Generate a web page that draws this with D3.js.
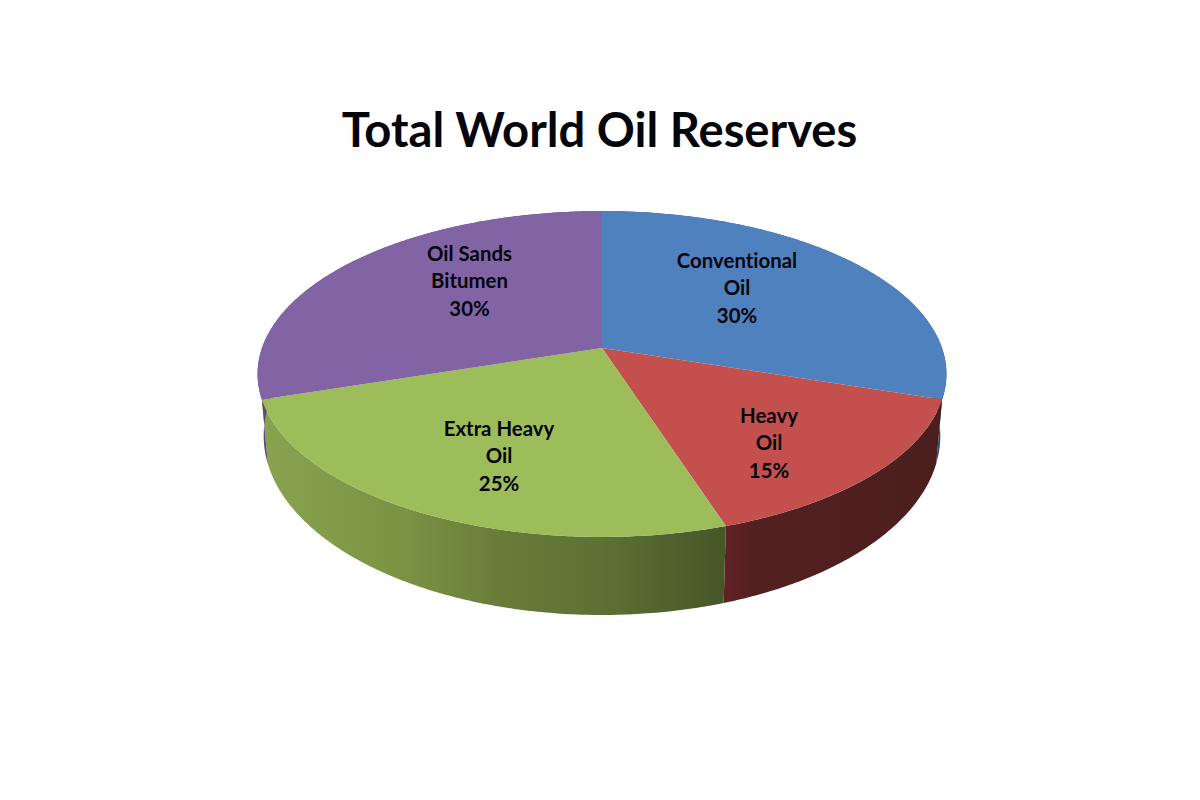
<!DOCTYPE html>
<html>
<head>
<meta charset="utf-8">
<script src="https://cdn.jsdelivr.net/npm/d3@7/dist/d3.min.js"></script>
<style>
html,body{margin:0;padding:0;background:#fff}
svg{display:block}
text{font-family:Lato,"Open Sans",sans-serif;font-weight:700;fill:#05050c;font-variant-ligatures:none}
</style>
</head>
<body>
<svg id="chart" width="1200" height="800"></svg>
<script>
const chartTitle = "Total World Oil Reserves";
const categories = ["Conventional Oil", "Heavy Oil", "Extra Heavy Oil", "Oil Sands Bitumen"];
const labelLines = [["Conventional", "Oil"], ["Heavy", "Oil"], ["Extra Heavy", "Oil"], ["Oil Sands", "Bitumen"]];
const shares = [30, 15, 25, 30];
const topColors = ["#4f81bf", "#c4504e", "#9dbc5a", "#8264a4"];

const svg = d3.select("#chart");

// Perspective projection of the disc: a top plane and a slightly smaller bottom plane
const persp = -0.1595, cx = 602;
const planes = {
  top:    {d: 340, a: 103.3, b: 348},
  bottom: {d: 334, a: 109.7, b: 407.2}
};
function project(angle, plane) {
  const x = Math.sin(angle), y = -Math.cos(angle), w = 1 + persp * y;
  return [cx + plane.d * x / w, (plane.a * y + plane.b) / w];
}
function arcPoints(a0, a1, plane) {
  const n = Math.ceil((a1 - a0) / 0.01);
  return d3.range(n + 1).map(i => project(a0 + (a1 - a0) * i / n, plane));
}
const line = d3.line();
const arcs = d3.pie().sort(null).value(d => d)(shares);

const defs = svg.append("defs");
function gradient(id, stops) {
  const g = defs.append("linearGradient").attr("id", id)
    .attr("gradientUnits", "userSpaceOnUse")
    .attr("x1", 258).attr("x2", 946).attr("y1", 0).attr("y2", 0);
  stops.forEach(s => g.append("stop").attr("offset", s[0]).attr("stop-color", s[1]));
}
gradient("side0", [[0, "#33517c"], [1, "#2f4d78"]]);
gradient("side1", [[0, "#622226"], [0.676, "#622226"], [0.72, "#532020"], [1, "#4b1e1e"]]);
gradient("side2", [[0, "#8aa34f"], [0.206, "#7b9444"], [0.352, "#687c3a"], [0.497, "#5e7134"], [0.676, "#465728"], [1, "#465728"]]);
gradient("side3", [[0, "#5c4878"], [1, "#5c4878"]]);

// Side walls first, painted from the back; top faces cover what is hidden
svg.append("g").selectAll("path").data(arcs).join("path")
  .attr("d", d => line(arcPoints(d.startAngle, d.endAngle, planes.top)
      .concat(arcPoints(d.startAngle, d.endAngle, planes.bottom).reverse())) + "Z")
  .attr("fill", (d, i) => `url(#side${i})`);

svg.append("g").selectAll("path").data(arcs).join("path")
  .attr("d", d => line([[cx, planes.top.b]].concat(arcPoints(d.startAngle, d.endAngle, planes.top))) + "Z")
  .attr("fill", (d, i) => topColors[i]);

svg.append("text").attr("x", 599.5).attr("y", 147)
  .attr("text-anchor", "middle").attr("font-size", 47.2).text(chartTitle);

// First-line baseline of every label block
const labelAnchors = [[737, 267.5], [769, 422.5], [499, 435.5], [469.5, 260.5]];
const lineStep = 27.6;
const labels = svg.append("g").selectAll("text").data(categories).join("text")
  .attr("text-anchor", "middle").attr("font-size", 20.4);
labels.each(function (d, i) {
  const rows = labelLines[i].concat(shares[i] + "%");
  d3.select(this).selectAll("tspan").data(rows).join("tspan")
    .attr("x", labelAnchors[i][0])
    .attr("y", (r, j) => labelAnchors[i][1] + j * lineStep)
    .text(r => r);
});
</script>
</body>
</html>
